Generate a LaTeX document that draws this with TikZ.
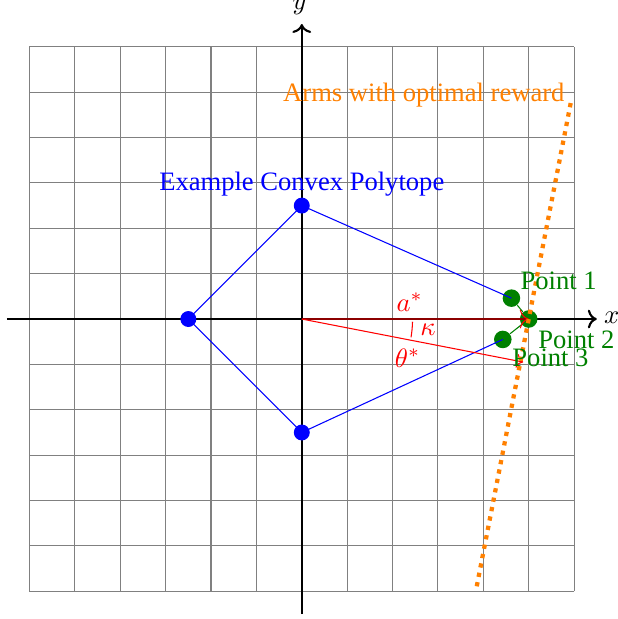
\documentclass[tikz,border=0pt]{standalone}
\usepackage{fontspec}
\setmainfont{Liberation Serif}
\usetikzlibrary{arrows.meta,calc}
\definecolor{armorange}{RGB}{255,128,0}
\definecolor{ptgreen}{RGB}{0,128,0}
\definecolor{darkred}{RGB}{140,0,0}

\begin{document}
\begin{tikzpicture}[scale=0.6,
  axis/.style={->,thick,black},
  edge/.style={blue},
  vdot/.style={circle,fill=blue,inner sep=0pt,minimum size=6pt},
  gdot/.style={circle,fill=ptgreen,inner sep=0pt,minimum size=6.6pt},
  ptlabel/.style={text=ptgreen}]
  \useasboundingbox (-6.65,-6.61) rectangle (6.96,7.03);
  \draw[gray,thin] (-6,-6) grid (6,6);

  % axes
  \coordinate (xl) at (-6.5,0);
  \coordinate (xr) at (6.5,0);
  \coordinate (yb) at (0,-6.5);
  \coordinate (yt) at (0,6.5);
  \coordinate (o)  at (0,0);
  \draw[axis] (xl) -- (xr);
  \draw[axis] (yb) -- (yt);
  \node at (6.83,0.02) {$x$};
  \node at (-0.05,6.88) {$y$};

  % polytope
  \node[vdot] (top)   at (0,2.5)     {};
  \node[vdot] (left)  at (-2.5,0)    {};
  \node[vdot] (bot)   at (0,-2.5)    {};
  \node[gdot] (pone)  at (4.62,0.46) {};
  \node[gdot] (ptwo)  at (5,0)       {};
  \node[gdot] (pthr)  at (4.43,-0.45){};
  \foreach \i/\j in {top/left,left/bot,bot/pthr,top/pone}{
    \draw[edge](\i.center)--(\j.center);}
  \draw[ptgreen] (pone) -- (ptwo);
  \draw[ptgreen] (pthr) -- (ptwo);
  \node[text=blue] at (0,2.97) {Example Convex Polytope};

  % optimal direction and angle
  \coordinate (theta) at (-11:4.97);
  \draw[-{To[color=red,line width=0.4pt]},darkred,thick] (o) -- (ptwo.center);
  \draw[->,red] (o) -- (theta);
  \draw[red] (2.44,-0.06) arc[start angle=-1.4,end angle=-9.5,radius=2.44];
  \node[text=red] at (2.38,0.37)  {$a^*$};
  \node[text=red] at (2.78,-0.24) {$\kappa$};
  \node[text=red] at (2.33,-0.86) {$\theta^*$};

  % arms with optimal reward
  \coordinate (arml) at ($(ptwo.center)+(79:-6)$);
  \coordinate (armh) at ($(ptwo.center)+(79:4.85)$);
  \draw[armorange,ultra thick,dotted] (arml) -- (armh);
  \node[text=armorange] at (2.69,4.93) {Arms with optimal reward};

  \node[ptlabel] at (5.66,0.84)  {Point 1};
  \node[ptlabel] at (6.05,-0.46) {Point 2};
  \node[ptlabel] at (5.48,-0.86) {Point 3};
\end{tikzpicture}
\end{document}
